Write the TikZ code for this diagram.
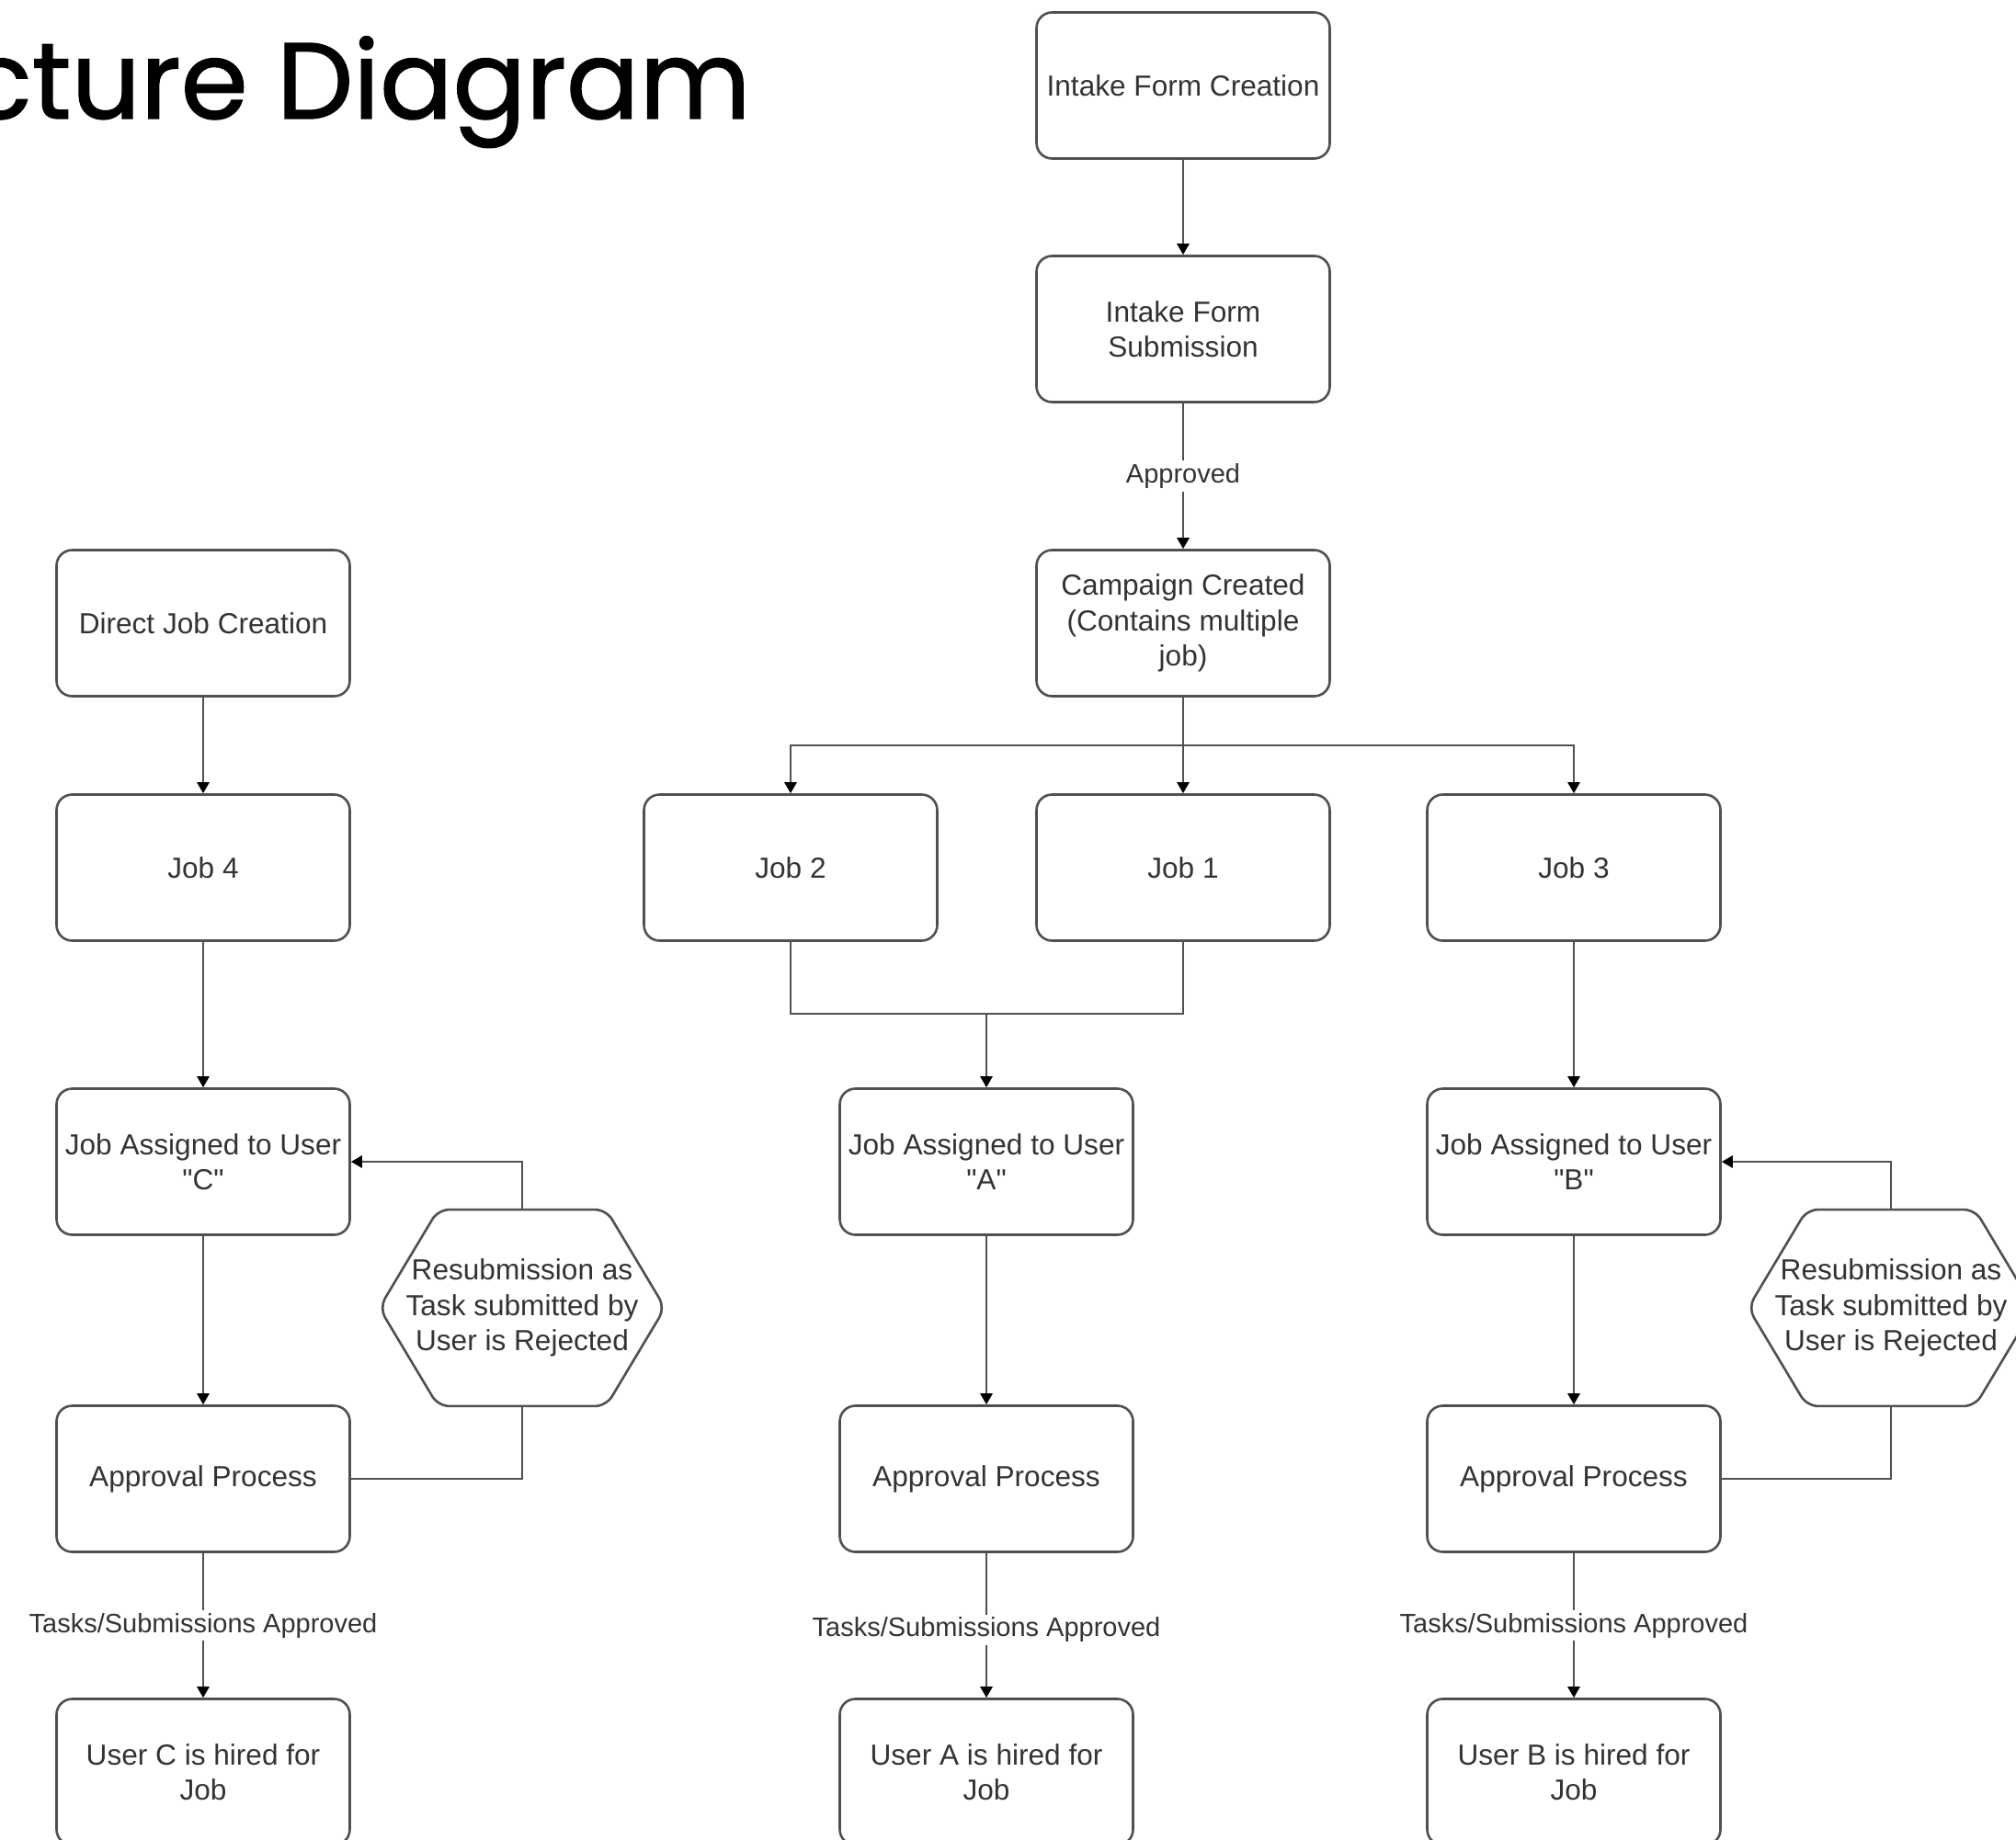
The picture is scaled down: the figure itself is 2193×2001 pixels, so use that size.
\documentclass[tikz,border=0pt]{standalone}
\usepackage{fontspec}
\setmainfont{Liberation Sans}[Ligatures=TeXOff]
\newfontfamily\titlefont{Poppins}[FakeBold=1.2]
\usetikzlibrary{arrows.meta,calc}
\definecolor{linec}{HTML}{505050}
\definecolor{textc}{HTML}{333333}
\begin{document}
\begin{tikzpicture}[x=0.5pt,y=-0.5pt,
  box/.style={draw=linec, line width=1.3pt, rounded corners=8.5pt, minimum width=159.5pt, minimum height=79.5pt, align=center, font=\fontsize{15.8}{19.2}\selectfont, text=textc, inner sep=0pt},
  hexnode/.style={minimum width=155pt, minimum height=106.5pt, align=center, font=\fontsize{15.8}{19.2}\selectfont, text=textc, inner sep=0pt},
  hexline/.style={draw=linec, line width=1.3pt, rounded corners=6pt},
  conn/.style={draw=linec, line width=1.3pt},
  arr/.style={conn, -{Triangle[length=6pt,width=6.5pt,color=black]}},
  lbl/.style={fill=white, font=\fontsize{14.5}{17}\selectfont, text=textc, inner sep=1.5pt}
]
\path[use as bounding box] (0,0) rectangle (2193,2001);
\clip (0,0) rectangle (2193,2001);

\node[anchor=base east, font=\titlefont\fontsize{58.8}{66}\selectfont, inner sep=0pt] (title) at (817,129) {cture Diagram};

% middle column
\node[box] (ifc) at (1287,93) {Intake Form Creation};
\node[box] (ifs) at (1287,358) {Intake Form\\Submission};
\node[box] (cc) at (1287,678) {Campaign Created\\(Contains multiple\\job)};
\node[box] (job2) at (860,944) {Job 2};
\node[box] (job1) at (1287,944) {Job 1};
\node[box] (job3) at (1712,944) {Job 3};
\node[box] (jaa) at (1073,1264) {Job Assigned to User\\"A"};
\node[box] (apa) at (1073,1609) {Approval Process};
\node[box] (ua) at (1073,1928) {User A is hired for\\Job};

% left column
\node[box] (djc) at (221,678) {Direct Job Creation};
\node[box] (job4) at (221,944) {Job 4};
\node[box] (jac) at (221,1264) {Job Assigned to User\\"C"};
\node[box] (apc) at (221,1609) {Approval Process};
\node[box] (uc) at (221,1928) {User C is hired for\\Job};
\node[hexnode] (hexc) at (568,1423) {Resubmission as\\Task submitted by\\User is Rejected};

% right column
\node[box] (jab) at (1712,1264) {Job Assigned to User\\"B"};
\node[box] (apb) at (1712,1609) {Approval Process};
\node[box] (ub) at (1712,1928) {User B is hired for\\Job};
\node[hexnode] (hexb) at (2057,1423) {Resubmission as\\Task submitted by\\User is Rejected};

% hexagon outlines
\foreach \h in {hexc,hexb}{
  \draw[hexline] (\h.west) -- ($(\h.north west)+(64,0)$) -- ($(\h.north east)+(-64,0)$) -- (\h.east) -- ($(\h.south east)+(-64,0)$) -- ($(\h.south west)+(64,0)$) -- cycle;
}

\coordinate (split) at (1287,811);
\coordinate (merge) at (1073,1103);

% connectors
\draw[arr] (ifc) -- (ifs);
\draw[arr] (ifs) -- node[lbl]{Approved} (cc);
\draw[arr] (cc) -- (job1);
\draw[arr] (split) -| (job2);
\draw[arr] (split) -| (job3);
\draw[conn] (job2) |- (merge);
\draw[conn] (job1) |- (merge);
\draw[arr] (merge) -- (jaa);
\draw[arr] (jaa) -- (apa);
\draw[arr] (apa) -- node[lbl, pos=0.53]{Tasks/Submissions Approved} (ua);

\draw[arr] (djc) -- (job4);
\draw[arr] (job4) -- (jac);
\draw[arr] (jac) -- (apc);
\draw[arr] (apc) -- node[lbl]{Tasks/Submissions Approved} (uc);
\draw[arr] (hexc.north) |- (jac.east);
\draw[conn] (apc.east) -| (hexc.south);

\draw[arr] (job3) -- (jab);
\draw[arr] (jab) -- (apb);
\draw[arr] (apb) -- node[lbl]{Tasks/Submissions Approved} (ub);
\draw[arr] (hexb.north) |- (jab.east);
\draw[conn] (apb.east) -| (hexb.south);
\end{tikzpicture}
\end{document}
